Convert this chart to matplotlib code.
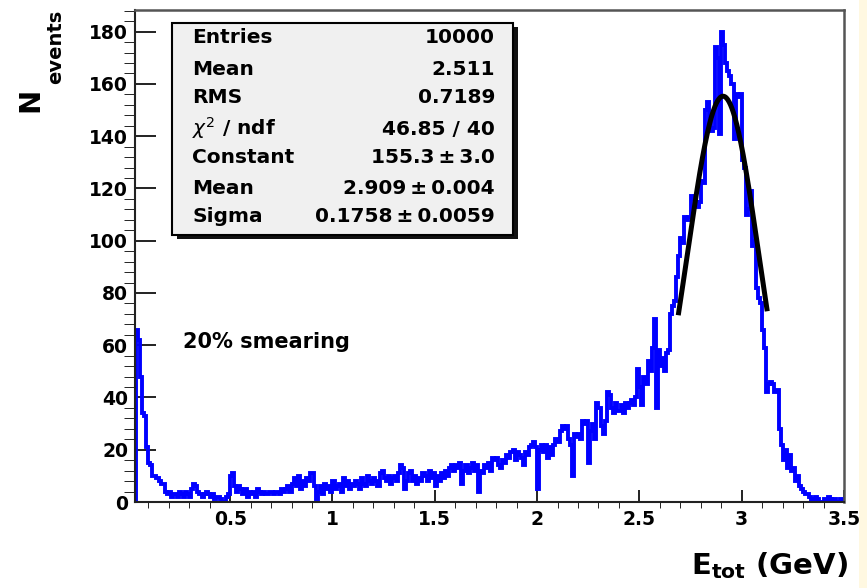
import numpy as np
import matplotlib
matplotlib.use("Agg")
import matplotlib.pyplot as plt
from matplotlib.patches import Rectangle
from matplotlib.ticker import MultipleLocator

plt.rcParams['font.family'] = 'DejaVu Sans'
plt.rcParams['mathtext.fontset'] = 'dejavusans'

# histogram binning (GeV)
x_first = 0.04
bin_width = 0.01

# counts per 0.01 GeV bin
counts_low = [66, 62, 48, 34, 33, 21,
              15, 14, 10, 10, 9, 8, 7, 7, 4, 3,
              4, 2, 3, 3, 2, 4, 3, 2, 4, 3,
              2, 5, 7, 6, 4, 3, 2, 3, 4, 3,
              2, 3, 1, 2, 2, 1, 0, 0, 2, 3,
              10, 11, 6, 4, 6, 5, 3, 5, 2, 4,
              3, 4, 2, 5, 4, 3, 4, 3, 3, 4,
              4, 3, 4, 4, 3, 5, 4, 5, 6, 4,
              7, 9, 6, 10, 5, 8, 6, 9, 8, 11,
              11, 6, 1, 4, 6, 3, 7, 5, 6, 4]
counts_mid = [8, 5, 6, 7, 4, 9, 6, 8, 5, 7,
              6, 8, 7, 5, 9, 7, 6, 10, 8, 7,
              9, 8, 6, 11, 12, 9, 8, 10, 7, 9,
              10, 8, 11, 14, 13, 5, 8, 11, 12, 8,
              10, 7, 9, 8, 11, 10, 8, 12, 9, 11,
              6, 10, 8, 11, 9, 12, 10, 13, 14, 12,
              14, 13, 15, 7, 12, 14, 11, 13, 15, 12,
              14, 4, 12, 11, 14, 13, 15, 12, 17, 16,
              17, 14, 13, 16, 15, 18, 17, 19, 20, 16,
              19, 18, 17, 14, 19, 18, 21, 22, 23, 21]
counts_rise = [5, 20, 22, 19, 22, 17, 21, 18, 22, 24,
               23, 27, 29, 28, 29, 24, 22, 10, 26, 25,
               26, 24, 31, 30, 31, 15, 27, 30, 24, 38,
               36, 29, 26, 31, 42, 41, 36, 34, 38, 35,
               35, 37, 34, 38, 36, 38, 39, 37, 40, 51,
               44, 37, 48, 45, 54, 50, 59, 70, 36, 58,
               52, 55, 50, 57, 58, 72, 75, 77, 86, 94]
counts_peak = [101, 99, 109, 108, 109, 117, 116, 115, 113, 115,
               123, 122, 150, 153, 145, 142, 143, 174, 170, 141,
               180, 175, 168, 165, 163, 160, 139, 156, 155, 156,
               131, 128, 110, 112, 119, 98, 100, 82, 78, 76,
               66, 59, 42, 45, 46, 45, 42, 43, 28, 22,
               16, 20, 13, 18, 12, 13, 8, 10, 6, 5,
               4, 3, 3, 2, 0, 1, 2, 1, 0, 0,
               1, 0, 2, 1, 0, 1, 0, 0, 1, 0]

# gaussian fit result shown in the stats box
fit_const = 155.3
fit_mean = 2.909
fit_sigma = 0.1758
fit_lo, fit_hi = 2.69, 3.125

stat_names = ['Entries', 'Mean', 'RMS', r'$\chi^{2}$ / ndf', 'Constant', 'Mean', 'Sigma']
stat_values = ['10000', '2.511', '0.7189', '46.85 / 40',
               '155.3\u2009\u00b1\u20093.0', '2.909\u2009\u00b1\u20090.004',
               '0.1758\u2009\u00b1\u20090.0059']

xtick_vals = [0.5, 1, 1.5, 2, 2.5, 3, 3.5]
xtick_labels = ['0.5', '1', '1.5', '2', '2.5', '3', '3.5']
ytick_vals = list(range(0, 181, 20))

counts = np.array(counts_low + counts_mid + counts_rise + counts_peak)
edges = x_first + bin_width * np.arange(len(counts) + 1)

W, H = 867, 588
fig = plt.figure(figsize=(W / 100, H / 100), dpi=100)


def fx(px):
    return px / W


def fy(py):
    return 1 - py / H


# pale strip on the right side of the canvas
fig.add_artist(Rectangle((fx(859), 0), 1 - fx(859), 1, transform=fig.transFigure,
                         facecolor='#FFF8E1', edgecolor='none', zorder=-5))

ax = fig.add_axes([fx(135), fy(502), fx(844) - fx(135), fy(10) - fy(502)])
ax.stairs(counts, edges, baseline=0, color='#0000FF', lw=2.8, zorder=2)

xf = np.linspace(fit_lo, fit_hi, 200)
yf = fit_const * np.exp(-0.5 * ((xf - fit_mean) / fit_sigma) ** 2)
ax.plot(xf, yf, color='black', lw=3.6, solid_capstyle='butt', zorder=3)

ax.set_xlim(0.035, 3.5)
ax.set_ylim(0, 188.3)
ax.set_xticks(xtick_vals)
ax.set_xticklabels(xtick_labels)
ax.set_yticks(ytick_vals)
ax.xaxis.set_minor_locator(MultipleLocator(0.1))
ax.yaxis.set_minor_locator(MultipleLocator(4))
ax.tick_params(direction='in', top=False, right=False, width=1.4, color='#222222',
               labelsize=13.5)
ax.tick_params(axis='y', which='major', length=15, pad=5)
ax.tick_params(axis='y', which='minor', length=8)
ax.tick_params(axis='x', which='major', length=8.5, pad=6)
ax.tick_params(axis='x', which='minor', length=4.3)
for lab in ax.get_xticklabels() + ax.get_yticklabels():
    lab.set_fontweight('bold')
for side in ['left', 'bottom']:
    ax.spines[side].set_linewidth(1.5)
    ax.spines[side].set_color('#222222')
for side in ['top', 'right']:
    ax.spines[side].set_linewidth(1.8)
    ax.spines[side].set_color('#555555')

# stats box with shadow
fig.add_artist(Rectangle((fx(177), fy(239)), fx(518) - fx(177), fy(27) - fy(239),
                         transform=fig.transFigure, facecolor='#111111',
                         edgecolor='none', zorder=4))
fig.add_artist(Rectangle((fx(172), fy(235)), fx(513) - fx(172), fy(23) - fy(235),
                         transform=fig.transFigure, facecolor='#F0F0F0',
                         edgecolor='black', lw=1.5, zorder=5))
row_base = [43, 75, 103, 135, 163, 194, 222]
for name, val, yb in zip(stat_names, stat_values, row_base):
    fig.text(fx(192), fy(yb), name, fontsize=14.5, fontweight='bold',
             va='baseline', ha='left', zorder=6)
    fig.text(fx(495), fy(yb), val, fontsize=14.5, fontweight='bold',
             va='baseline', ha='right', zorder=6)

fig.text(fx(183), fy(348), '20% smearing', fontsize=15, fontweight='bold',
         va='baseline', ha='left')

# axis titles (ROOT style, subscripts placed by hand)
fig.text(fx(848), fy(574), r'$\mathbf{E_{tot}}$ (GeV)', fontsize=21,
         fontweight='bold', ha='right', va='baseline')
fig.text(fx(38), fy(112), 'N', fontsize=21, fontweight='bold', rotation=90,
         rotation_mode='anchor', ha='left', va='baseline')
fig.text(fx(61), fy(84), 'events', fontsize=14, fontweight='bold', rotation=90,
         rotation_mode='anchor', ha='left', va='baseline')

fig.savefig('out.png', dpi=100)
